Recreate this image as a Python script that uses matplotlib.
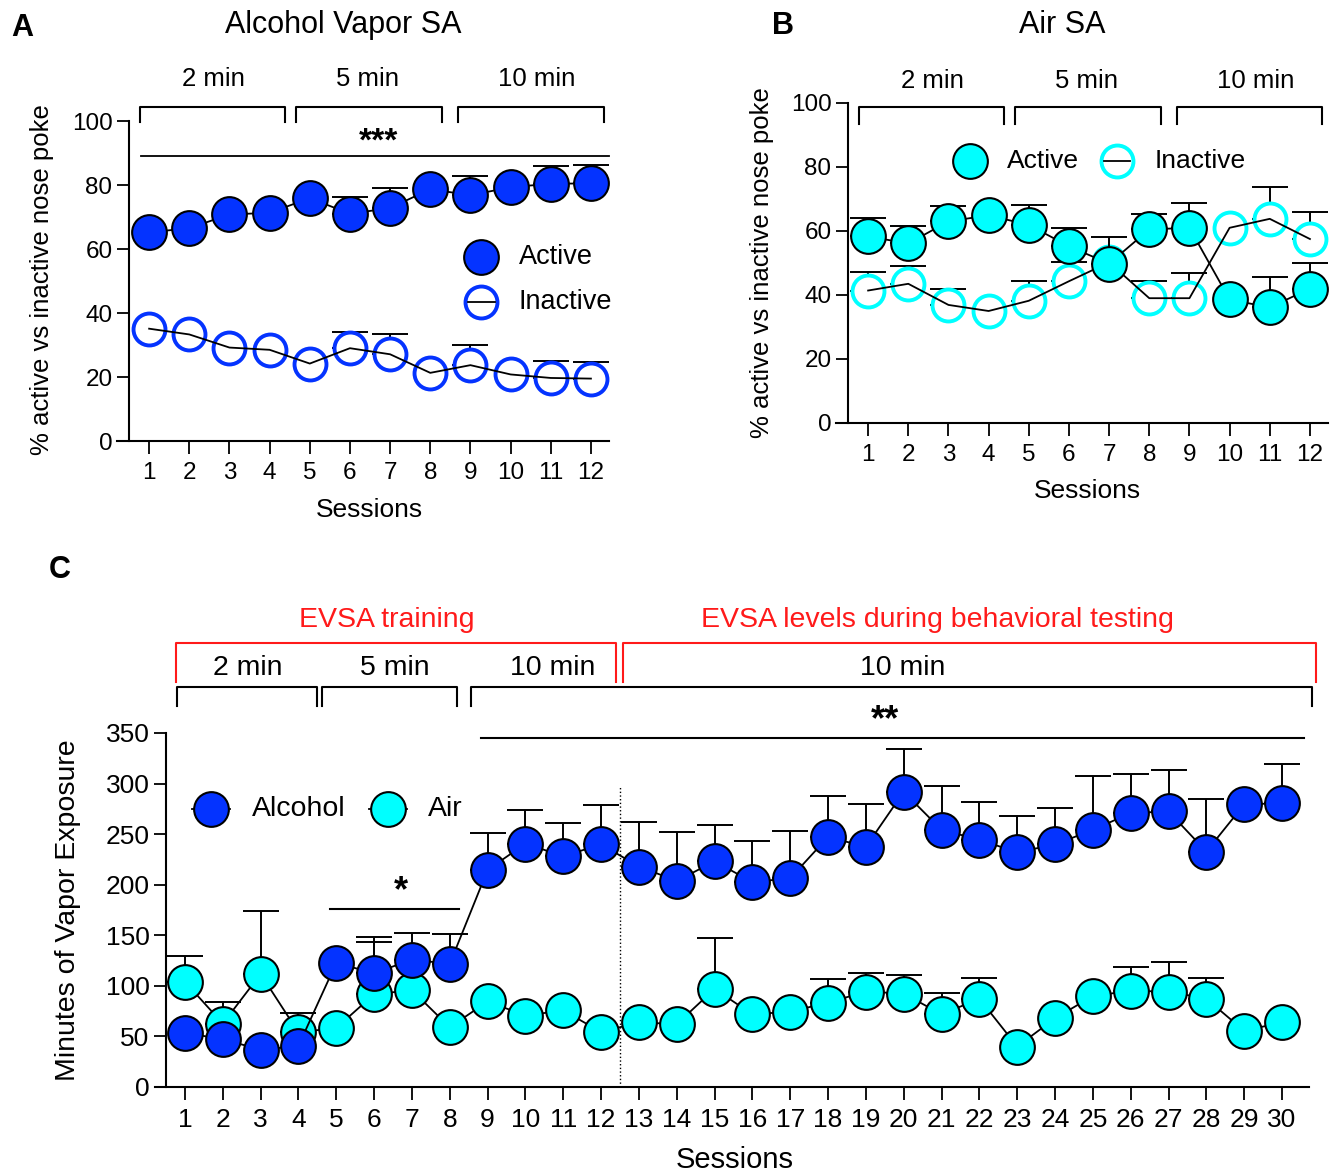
import numpy as np
import matplotlib
matplotlib.use("Agg")
import matplotlib.pyplot as plt

plt.rcParams['font.family'] = ['Liberation Sans', 'DejaVu Sans']

BLUE = '#0433FF'
CYAN = '#00FFFF'
RED = '#FF1A1A'

# ---- data ----
sessions12 = np.arange(1, 13)
sessions30 = np.arange(1, 31)

# panel A: alcohol vapor SA (% active vs inactive)
alc_active = [65.2, 66.5, 70.8, 71.3, 75.9, 71.0, 72.8, 78.7, 76.8, 79.3, 80.4, 80.5]
alc_active_sem = [0, 0, 0, 0, 0, 5.2, 6.4, 0, 6.0, 0, 5.4, 5.6]
alc_inactive = [35.1, 33.3, 29.2, 28.5, 24.2, 29.0, 27.1, 21.3, 23.7, 20.8, 19.7, 19.5]
alc_inactive_sem = [0, 0, 0, 0, 0, 5.2, 6.4, 0, 6.2, 0, 5.3, 5.2]

# panel B: air SA
air_active = [58.3, 56.1, 63.0, 64.9, 61.9, 55.2, 49.8, 60.5, 61.0, 38.6, 36.1, 42.0]
air_active_sem = [5.9, 5.6, 4.8, 0, 6.2, 5.7, 8.2, 4.9, 7.8, 0, 9.5, 8.1]
air_inactive = [41.4, 43.5, 36.9, 35.0, 38.2, 44.3, 50.2, 39.0, 39.0, 61.0, 63.8, 57.5]
air_inactive_sem = [5.9, 5.6, 5.0, 0, 6.1, 6.0, 0, 5.5, 7.8, 0, 9.8, 8.4]

# panel C: minutes of vapor exposure
alcohol_min = [53.4, 47.4, 36.7, 40.7, 122.7, 112.4, 126.0, 121.7, 214.6, 240.6,
               228.2, 239.8, 218.0, 203.7, 223.1, 202.6, 206.4, 247.2, 237.5, 291.8,
               254.2, 244.5, 232.0, 239.8, 254.2, 270.9, 272.4, 232.8, 279.4, 280.6]
alcohol_sem = [0, 0, 0, 0, 0, 36, 26.7, 30, 37, 33,
               32.6, 38.8, 44, 48.5, 36.1, 41.1, 46.6, 40.7, 41.9, 41.9,
               43.4, 36.8, 35.8, 35.7, 53.1, 38.4, 41.1, 51.6, 0, 38.8]
air_min = [104.0, 62.7, 111.7, 54.0, 58.4, 91.7, 95.7, 59.0, 84.6, 70.6,
           75.7, 54.3, 64.0, 62.1, 97.0, 71.8, 74.5, 83.4, 94.3, 92.4,
           71.8, 87.3, 40.0, 67.9, 90.0, 95.1, 94.3, 87.3, 55.5, 64.0]
air_sem = [25.4, 21.7, 62.3, 18.7, 0, 51.7, 0, 0, 0, 0,
           0, 0, 0, 0, 50.5, 0, 0, 23.3, 18.2, 18.2,
           21.3, 20.2, 0, 0, 0, 24, 29.1, 20.2, 0, 0]

MS = 25


def style_axis(ax, xmin, xmax, ymax, yticks, xticks, lsize):
    ax.set_xlim(xmin, xmax)
    ax.set_ylim(0, ymax)
    ax.spines['top'].set_visible(False)
    ax.spines['right'].set_visible(False)
    ax.spines['left'].set_position(('data', 0.5))
    ax.spines['left'].set_linewidth(1.5)
    ax.spines['bottom'].set_linewidth(1.5)
    ax.set_yticks(yticks)
    ax.set_xticks(xticks)
    ax.tick_params(axis='both', length=9, width=1.3, labelsize=lsize)
    ax.tick_params(axis='x', pad=6)
    ax.tick_params(axis='y', pad=3)
    ax.patch.set_alpha(0)


def bracket(ax, x0, x1, ytop, ybot, color='k'):
    ax.plot([x0, x0, x1, x1], [ybot, ytop, ytop, ybot], color=color, lw=1.5, clip_on=False)


def up_err(ax, x, y, e, z):
    e = np.asarray(e, dtype=float)
    keep = e > 0
    ax.errorbar(np.asarray(x)[keep], np.asarray(y)[keep], yerr=[np.zeros(keep.sum()), e[keep]],
                fmt='none', ecolor='k', elinewidth=1.4, capsize=13, capthick=1.4,
                zorder=z, clip_on=False)


def open_series(ax, x, y, e, color):
    up_err(ax, x, y, e, 1)
    ax.plot(x, y, 'o', ms=MS - 2, mfc='white', mec=color, mew=2.8, zorder=2, clip_on=False)
    ax.plot(x, y, color='k', lw=1.3, zorder=3)


def filled_series(ax, x, y, e, color, z=4):
    up_err(ax, x, y, e, z)
    ax.plot(x, y, color='k', lw=1.3, zorder=z + 0.1)
    ax.plot(x, y, 'o', ms=MS, mfc=color, mec='k', mew=1.5, zorder=z + 0.2, clip_on=False)


W, H = 1339, 1176
fig = plt.figure(figsize=(W / 100, H / 100), dpi=100)

# ---------------- Panel A ----------------
axA = fig.add_axes([117 / W, 1 - 441 / H, 492 / W, 320 / H])
style_axis(axA, 0.2, 12.45, 100, np.arange(0, 101, 20), sessions12, 17.5)
axA.spines['left'].set_bounds(0, 100)
open_series(axA, sessions12, alc_inactive, alc_inactive_sem, BLUE)
filled_series(axA, sessions12, alc_active, alc_active_sem, BLUE)
for x0, x1 in [(0.77, 4.39), (4.65, 8.29), (8.69, 12.32)]:
    bracket(axA, x0, x1, 104.5, 99.8)
for xc, lab in [(2.6, '2 min'), (6.44, '5 min'), (10.66, '10 min')]:
    axA.text(xc, 113, lab, ha='center', va='center', fontsize=18.5)
axA.plot([0.81, 12.44], [89, 89], color='k', lw=1.3, clip_on=False)
axA.text(6.71, 88.5, '***', ha='center', va='bottom', fontsize=24, fontweight='bold')
axA.plot([9.27], [57.5], 'o', ms=MS, mfc=BLUE, mec='k', mew=1.5)
axA.text(10.2, 57.5, 'Active', va='center', fontsize=19.5)
axA.plot([9.27], [43.3], 'o', ms=MS - 2, mfc='white', mec=BLUE, mew=2.8)
axA.plot([8.95, 9.6], [43.3, 43.3], color='k', lw=1.3)
axA.text(10.2, 43.3, 'Inactive', va='center', fontsize=19.5)
axA.set_xlabel('Sessions', fontsize=19)
axA.xaxis.set_label_coords(0.514, -0.216)
axA.xaxis.label.set_va('center')
axA.set_ylabel('% active vs inactive nose poke', fontsize=18.5)
axA.yaxis.set_label_coords(-0.152, 0.503)
axA.yaxis.label.set_va('center')

# ---------------- Panel B ----------------
axB = fig.add_axes([836 / W, 1 - 423 / H, 492 / W, 320 / H])
style_axis(axB, 0.2, 12.45, 100, np.arange(0, 101, 20), sessions12, 17.5)
axB.spines['left'].set_bounds(0, 100)
open_series(axB, sessions12, air_inactive, air_inactive_sem, CYAN)
filled_series(axB, sessions12, air_active, air_active_sem, CYAN)
for x0, x1 in [(0.77, 4.39), (4.66, 8.28), (8.68, 12.3)]:
    bracket(axB, x0, x1, 98.6, 93.4)
for xc, lab in [(2.6, '2 min'), (6.44, '5 min'), (10.65, '10 min')]:
    axB.text(xc, 106.9, lab, ha='center', va='center', fontsize=18.5)
axB.plot([3.54], [82], 'o', ms=MS, mfc=CYAN, mec='k', mew=1.5)
axB.text(4.46, 82, 'Active', va='center', fontsize=19)
axB.plot([7.2], [82], 'o', ms=MS - 2, mfc='white', mec=CYAN, mew=2.8)
axB.plot([6.88, 7.52], [82, 82], color='k', lw=1.3)
axB.text(8.14, 82, 'Inactive', va='center', fontsize=19)
axB.set_xlabel('Sessions', fontsize=19)
axB.xaxis.set_label_coords(0.512, -0.2125)
axB.xaxis.label.set_va('center')
axB.set_ylabel('% active vs inactive nose poke', fontsize=18.5)
axB.yaxis.set_label_coords(-0.150, 0.5)
axB.yaxis.label.set_va('center')

# ---------------- Panel C ----------------
axC = fig.add_axes([154.7 / W, 1 - 1087 / H, 1153.8 / W, 354 / H])
style_axis(axC, 0.2, 30.7, 350, np.arange(0, 351, 50), sessions30, 19)
axC.spines['left'].set_bounds(0, 350)
filled_series(axC, sessions30, air_min, air_sem, CYAN, z=1)
filled_series(axC, sessions30, alcohol_min, alcohol_sem, BLUE, z=4)
axC.plot([12.5, 12.5], [0, 298], ls=':', color='k', lw=1.0)
for x0, x1 in [(0.78, 4.49), (4.63, 8.2), (8.57, 30.79)]:
    bracket(axC, x0, x1, 395, 377)
for x0, x1 in [(0.76, 12.39), (12.58, 30.89)]:
    bracket(axC, x0, x1, 439, 400, color=RED)
for xc, lab in [(2.67, '2 min'), (6.55, '5 min'), (10.73, '10 min'), (19.96, '10 min')]:
    axC.text(xc, 414, lab, ha='center', va='center', fontsize=20.5)
axC.text(6.34, 462, 'EVSA training', ha='center', va='center', fontsize=20.5, color=RED)
axC.text(20.9, 462, 'EVSA levels during behavioral testing', ha='center', va='center',
         fontsize=20.5, color=RED)
axC.plot([8.83, 30.58], [345.4, 345.4], color='k', lw=1.5, clip_on=False)
axC.text(19.5, 345, '**', ha='center', va='bottom', fontsize=26, fontweight='bold')
axC.plot([4.83, 8.24], [176, 176], color='k', lw=1.5)
axC.text(6.7, 176, '*', ha='center', va='bottom', fontsize=26, fontweight='bold')
for xm, xt, col, lab in [(1.69, 2.77, BLUE, 'Alcohol'), (6.36, 7.43, CYAN, 'Air')]:
    axC.plot([xm - 0.5, xm + 0.5], [274.4, 274.4], color='k', lw=1.3, zorder=5)
    axC.plot([xm], [274.4], 'o', ms=MS, mfc=col, mec='k', mew=1.5, zorder=6)
    axC.text(xt, 274.4, lab, va='center', fontsize=20.5)
axC.set_xlabel('Sessions', fontsize=21)
axC.xaxis.set_label_coords(0.503, -0.206)
axC.xaxis.label.set_va('center')
axC.set_ylabel('Minutes of Vapor Exposure', fontsize=20.5)
axC.yaxis.set_label_coords(-0.075, 0.5)
axC.yaxis.label.set_va('center')

# titles and panel letters
fig.text(343 / W, 1 - 25 / H, 'Alcohol Vapor SA', ha='center', va='center', fontsize=22)
fig.text(1062 / W, 1 - 25 / H, 'Air SA', ha='center', va='center', fontsize=22)
fig.text(22 / W, 1 - 28 / H, 'A', ha='center', va='center', fontsize=22, fontweight='bold')
fig.text(783 / W, 1 - 26 / H, 'B', ha='center', va='center', fontsize=22, fontweight='bold')
fig.text(60 / W, 1 - 570 / H, 'C', ha='center', va='center', fontsize=22, fontweight='bold')

fig.savefig('out.png', dpi=100)
